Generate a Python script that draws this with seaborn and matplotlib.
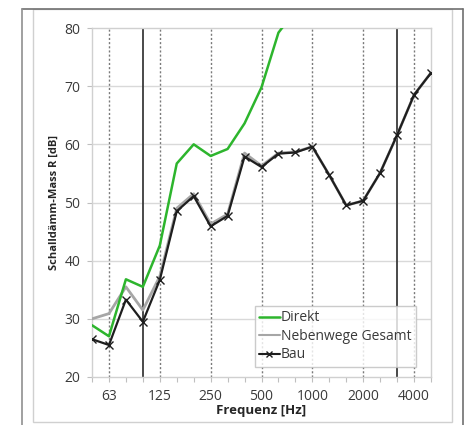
import numpy as np
import pandas as pd
import matplotlib
matplotlib.use("Agg")
import matplotlib.pyplot as plt
from matplotlib.lines import Line2D
from matplotlib.patches import Rectangle
import seaborn as sns

# ---- data ----
freqs = ["50", "63", "80", "100", "125", "160", "200", "250", "315", "400", "500",
         "630", "800", "1000", "1250", "1600", "2000", "2500", "3150", "4000", "5000"]
direkt = [28.9, 27.0, 36.8, 35.5, 42.6, 56.7, 60.0, 58.0, 59.2, 63.6, 69.8,
          79.2, 83.0, np.nan, np.nan, np.nan, np.nan, np.nan, np.nan, np.nan, np.nan]
nebenwege = [30.0, 30.9, 35.5, 31.5, 37.3, 49.0, 51.5, 46.3, 48.0, 58.5, 56.3,
             58.5, 58.7, 59.6, 54.7, 49.5, 50.3, 55.1, 61.6, 68.5, 72.3]
bau = [26.5, 25.5, 33.3, 29.5, 36.7, 48.5, 51.1, 45.9, 47.7, 57.9, 56.1,
       58.4, 58.6, 59.6, 54.7, 49.5, 50.3, 55.1, 61.6, 68.5, 72.3]
labeled_ticks = ["63", "125", "250", "500", "1000", "2000", "4000"]
solid_marks = ["100", "3150"]
series_names = ["Direkt", "Nebenwege Gesamt", "Bau"]

sns.set_theme(style="white")
plt.rcParams['font.family'] = ['Open Sans', 'DejaVu Sans']

fig = plt.figure(figsize=(4.67, 4.25), dpi=100)
W, H = 467, 425
ax = fig.add_axes([92 / W, 1 - 377 / H, (431 - 92) / W, (377 - 28) / H])

idx = np.arange(len(freqs))
df = pd.DataFrame({"idx": idx, "Direkt": direkt, "Nebenwege Gesamt": nebenwege, "Bau": bau})

# grid / reference lines
for v in [30, 40, 50, 60, 70]:
    ax.axhline(v, color="#d9d9d9", lw=1.0, zorder=0)
for f in labeled_ticks:
    ax.axvline(freqs.index(f), color="#7a7a7a", lw=1.0, ls=(0, (1.5, 1.5)), zorder=1)
for f in solid_marks:
    ax.axvline(freqs.index(f), color="#3a3a3a", lw=1.3, zorder=1)

sns.lineplot(data=df, x="idx", y="Nebenwege Gesamt", ax=ax, color="#a6a6a6", lw=2.0,
             label="Nebenwege Gesamt", zorder=3)
sns.lineplot(data=df, x="idx", y="Direkt", ax=ax, color="#2db52d", lw=1.8,
             label="Direkt", zorder=4)
sns.lineplot(data=df, x="idx", y="Bau", ax=ax, color="#1e1e1e", lw=1.6, marker="x",
             markersize=5.5, markeredgewidth=1.0, markeredgecolor="#1e1e1e",
             label="Bau", zorder=5)

ax.set_xlim(0, len(freqs) - 1)
ax.set_ylim(20, 80)
ax.set_xticks(idx)
ax.set_xticklabels([f if f in labeled_ticks else "" for f in freqs])
ax.set_yticks([20, 30, 40, 50, 60, 70, 80])
ax.tick_params(axis="both", which="major", length=3.5, width=0.8, color="#bfbfbf",
               labelsize=10, labelcolor="#3a3a3a", direction="out", bottom=True, left=True,
               pad=5)
ax.set_xlabel("Frequenz [Hz]", fontsize=9.5, fontweight="bold", color="#262626", labelpad=0)
ax.set_ylabel("Schalldämm-Mass R [dB]", fontsize=8, fontweight="bold", color="#262626",
              labelpad=3)
for s in ax.spines.values():
    s.set_color("#d0d0d0")
    s.set_linewidth(1.0)

handles = [Line2D([], [], color="#2db52d", lw=1.8),
           Line2D([], [], color="#a6a6a6", lw=1.5),
           Line2D([], [], color="#1e1e1e", lw=1.5, marker="x", markersize=4)]
leg = ax.legend(handles, series_names, loc="lower left", bbox_to_anchor=(0.48, 0.03),
                fontsize=10, frameon=True, fancybox=False, handlelength=1.5,
                handletextpad=0.1, borderpad=0.3, labelspacing=0.25, borderaxespad=0)
leg.get_frame().set_edgecolor("#bfbfbf")
leg.get_frame().set_linewidth(1.0)
for t in leg.get_texts():
    t.set_color("#3a3a3a")

# outer frames
fig.patches.append(Rectangle((33 / W, 1 - 422 / H), (452 - 33) / W, (422 - 9) / H,
                             transform=fig.transFigure, fill=False, ec="#d0d0d0", lw=1.0))
fig.add_artist(Line2D([22 / W, 463 / W], [1 - 9 / H, 1 - 9 / H], transform=fig.transFigure,
                      color="#707070", lw=1.2))
fig.add_artist(Line2D([22 / W, 22 / W], [0, 1 - 9 / H], transform=fig.transFigure,
                      color="#909090", lw=1.2))
fig.add_artist(Line2D([463 / W, 463 / W], [0, 1 - 9 / H], transform=fig.transFigure,
                      color="#707070", lw=1.2))

fig.savefig("out.png", dpi=100)
